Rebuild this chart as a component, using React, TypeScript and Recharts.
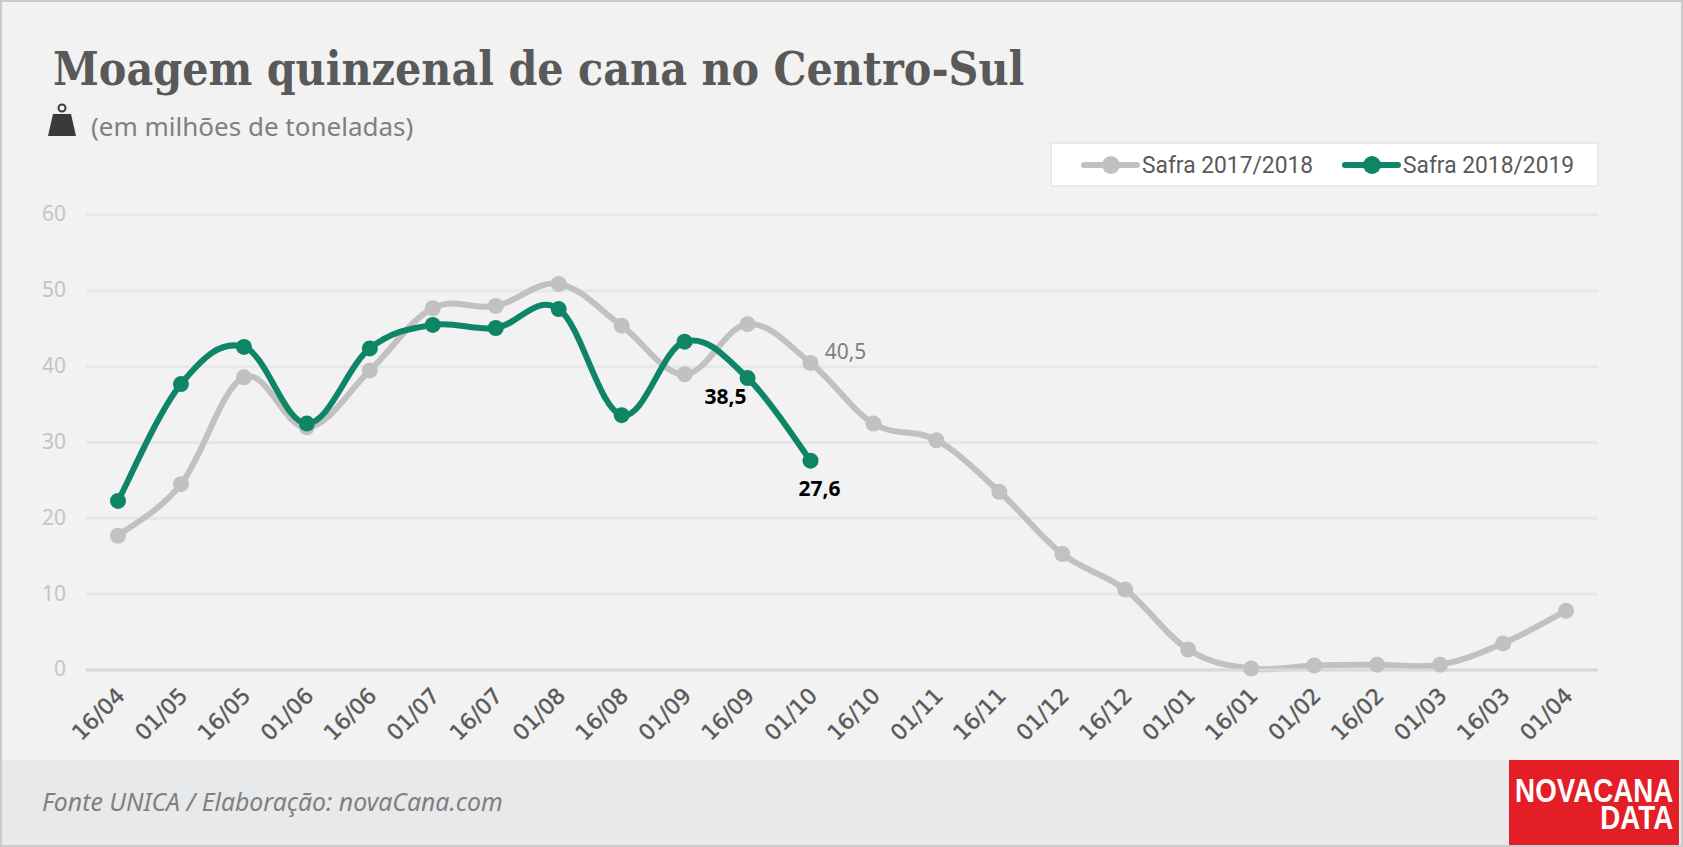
import React from 'react';
import { LineChart, Line, XAxis, YAxis, CartesianGrid, Legend } from 'recharts';

const quinzenas = ['16/04', '01/05', '16/05', '01/06', '16/06', '01/07', '16/07', '01/08', '16/08', '01/09', '16/09', '01/10', '16/10', '01/11', '16/11', '01/12', '16/12', '01/01', '16/01', '01/02', '16/02', '01/03', '16/03', '01/04'];
const safra1718 = [17.7, 24.5, 38.6, 32, 39.5, 47.7, 48, 50.9, 45.4, 39, 45.6, 40.5, 32.5, 30.3, 23.5, 15.3, 10.6, 2.7, 0.2, 0.6, 0.7, 0.7, 3.5, 7.8];
const safra1819 = [22.3, 37.7, 42.6, 32.5, 42.4, 45.5, 45.1, 47.6, 33.6, 43.3, 38.5, 27.6];
const yTicks = [0, 10, 20, 30, 40, 50, 60];

const GRAY = '#c1c1c1';
const GREEN = '#0e8566';

const data = quinzenas.map((q, i) => ({
  q,
  'Safra 2017/2018': safra1718[i],
  'Safra 2018/2019': safra1819[i],
}));

// suavização tipo catmull-rom, as curvas do original passam um pouco dos pontos
const smooth = (context: any) => {
  let pts: number[][] = [];
  return {
    areaStart() {},
    areaEnd() {},
    lineStart() {
      pts = [];
    },
    point(x: number, y: number) {
      pts.push([+x, +y]);
    },
    lineEnd() {
      pts.forEach((p, i) => {
        if (i === 0) {
          context.moveTo(p[0], p[1]);
          return;
        }
        const p0 = pts[i - 2] || pts[i - 1];
        const p1 = pts[i - 1];
        const p3 = pts[i + 1] || p;
        const t = 0.18;
        context.bezierCurveTo(
          p1[0] + (p[0] - p0[0]) * t,
          p1[1] + (p[1] - p0[1]) * t,
          p[0] - (p3[0] - p1[0]) * t,
          p[1] - (p3[1] - p1[1]) * t,
          p[0],
          p[1],
        );
      });
    },
  };
};

const fmt = (v: number) => v.toFixed(1).replace('.', ',');

const Label1718 = (props: any) => {
  const { x, y, index, value } = props;
  if (index !== 11) return null;
  return (
    <text x={x + 35} y={y - 4} fill="#808080" fontSize={21} textAnchor="middle" fontFamily="'Noto Sans'">
      {fmt(value)}
    </text>
  );
};

const Label1819 = (props: any) => {
  const { x, y, index, value } = props;
  if (index === 10) {
    return (
      <text x={x - 22} y={y + 26} fill="#000" fontSize={21} fontWeight="bold" textAnchor="middle" fontFamily="'Noto Sans'">
        {fmt(value)}
      </text>
    );
  }
  if (index === 11) {
    return (
      <text x={x + 9} y={y + 35} fill="#000" fontSize={21} fontWeight="bold" textAnchor="middle" fontFamily="'Noto Sans'">
        {fmt(value)}
      </text>
    );
  }
  return null;
};

const LegendBox = ({ payload }: any) => (
  <div style={{ display: 'flex', height: '100%', alignItems: 'center', paddingLeft: 26, boxSizing: 'border-box', background: '#fff', border: '2px solid #e8e9eb' }}>
    {(payload || []).map((entry: any, i: number) => (
      <div key={entry.value} style={{ display: 'flex', alignItems: 'center', marginLeft: i ? 27 : 0 }}>
        <svg width={62} height={22}>
          <line x1={6} y1={11} x2={59} y2={11} stroke={entry.color} strokeWidth={6} strokeLinecap="round" />
          <circle cx={33} cy={11} r={9} fill={entry.color} />
        </svg>
        <span style={{ display: 'inline-block', width: 170, marginLeft: 2, fontFamily: 'Roboto', fontSize: 24, color: '#595959', whiteSpace: 'nowrap', transform: 'scaleX(0.95)', transformOrigin: 'left center' }}>{entry.value}</span>
      </div>
    ))}
  </div>
);

const App = () => (
  <div style={{ position: 'absolute', left: 0, top: 0, width: 1683, height: 847, boxSizing: 'border-box', background: '#f2f2f2', overflow: 'hidden' }}>
    <div style={{ position: 'absolute', left: 0, top: 760, width: 1683, height: 87, background: '#e8e9eb' }} />
    <div style={{ position: 'absolute', left: 0, top: 0, width: 1683, height: 847, boxSizing: 'border-box', border: '2px solid #cbcbcb' }} />

    <div style={{ position: 'absolute', left: 53, top: 42, fontFamily: "'DejaVu Serif Condensed'", fontWeight: 'bold', fontSize: 46, color: '#595959', whiteSpace: 'nowrap' }}>
      Moagem quinzenal de cana no Centro-Sul
    </div>
    <svg style={{ position: 'absolute', left: 46, top: 102 }} width={32} height={36}>
      <circle cx={16} cy={6} r={3.5} fill="none" stroke="#3a3a3a" strokeWidth={2} />
      <path d="M7 12 L25 12 L30 34 L2 34 Z" fill="#3a3a3a" />
    </svg>
    <div style={{ position: 'absolute', left: 91, top: 108, fontFamily: "'Noto Sans'", fontSize: 26, color: '#808080', whiteSpace: 'nowrap' }}>
      (em milhões de toneladas)
    </div>

    <div style={{ position: 'absolute', left: 0, top: 0 }}>
      <LineChart width={1683} height={847} data={data} margin={{ top: 215, right: 85, bottom: 0, left: 0 }}>
        <CartesianGrid vertical={false} stroke="#e6e7e8" strokeWidth={3} />
        <XAxis
          dataKey="q"
          interval={0}
          height={177}
          padding={{ left: 32, right: 32 }}
          angle={-45}
          textAnchor="end"
          tickLine={false}
          tickMargin={10}
          axisLine={{ stroke: '#d9d9d9', strokeWidth: 3 }}
          tick={{ fontSize: 22, fill: '#595959', stroke: '#595959', strokeWidth: 0.4, fontFamily: "'DejaVu Sans'", dx: -3 }}
        />
        <YAxis
          width={86}
          domain={[0, 60]}
          ticks={yTicks}
          axisLine={false}
          tickLine={false}
          tickMargin={14}
          tick={{ fontSize: 21, fill: '#c4c4c4', fontFamily: "'Noto Sans'", dy: -1 }}
        />
        <Legend
          layout="horizontal"
          verticalAlign="middle"
          align="center"
          wrapperStyle={{ left: 1050, top: 142, width: 549, height: 45 }}
          content={<LegendBox />}
        />
        <Line
          dataKey="Safra 2017/2018"
          type={smooth as any}
          stroke={GRAY}
          strokeWidth={6}
          dot={{ r: 8, fill: GRAY, stroke: GRAY, strokeWidth: 0 }}
          activeDot={false}
          label={<Label1718 />}
          isAnimationActive={false}
        />
        <Line
          dataKey="Safra 2018/2019"
          type={smooth as any}
          stroke={GREEN}
          strokeWidth={6}
          dot={{ r: 8, fill: GREEN, stroke: GREEN, strokeWidth: 0 }}
          activeDot={false}
          label={<Label1819 />}
          isAnimationActive={false}
        />
      </LineChart>
    </div>

    <div style={{ position: 'absolute', left: 42, top: 784, fontFamily: "'Noto Sans'", fontStyle: 'italic', fontSize: 24.8, color: '#808080', whiteSpace: 'nowrap' }}>
      Fonte UNICA / Elaboração: novaCana.com
    </div>
    <div style={{ position: 'absolute', left: 1509, top: 760, width: 170, height: 85, background: '#e31e26' }}>
      <div style={{ position: 'absolute', right: 6, top: 17, color: '#fff', fontFamily: "'Liberation Sans'", fontWeight: 'bold', fontSize: 33, lineHeight: '27px', textAlign: 'right', whiteSpace: 'nowrap', transform: 'scaleX(0.84)', transformOrigin: 'right center' }}>
        NOVACANA
        <br />
        DATA
      </div>
    </div>
  </div>
);

export default App;
